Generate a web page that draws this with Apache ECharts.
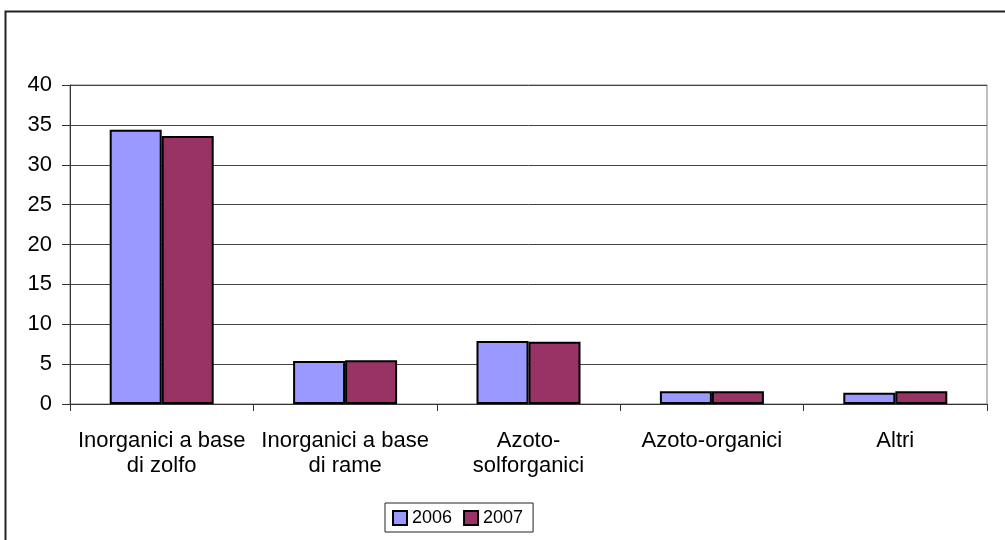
<!DOCTYPE html>
<html>
<head>
<meta charset="utf-8">
<script src="https://cdn.jsdelivr.net/npm/echarts@6/dist/echarts.min.js"></script>
<style>
  html, body { margin: 0; padding: 0; background: #fff; }
  #my-charts { width: 1005px; height: 540px; }
</style>
</head>
<body>
<div id="my-charts"></div>
<script>
// categorie e valori
var categories = [
  'Inorganici a base\ndi zolfo',
  'Inorganici a base\ndi rame',
  'Azoto-\nsolforganici',
  'Azoto-organici',
  'Altri'
]
var values2006 = [34.4, 5.4, 7.9, 1.6, 1.4]
var values2007 = [33.6, 5.5, 7.8, 1.6, 1.6]
var yTicks = { min: 0, max: 40, interval: 5 }

var font = '"Liberation Sans", Arial, sans-serif'
var myChart = echarts.init(document.getElementById('my-charts'))

var option = {
  animation: false,
  backgroundColor: '#fff',
  textStyle: { fontFamily: font },
  graphic: [
    {
      type: 'rect',
      shape: { x: 5.5, y: 11.5, width: 1100, height: 600 },
      style: { fill: 'none', stroke: '#222', lineWidth: 2 },
      silent: true
    }
  ],
  grid: {
    left: 70,
    right: 18,
    top: 85,
    bottom: 136,
    show: true,
    borderColor: '#808080',
    borderWidth: 1
  },
  legend: {
    left: 385,
    top: 503,
    data: ['2006', '2007'],
    itemWidth: 14,
    itemHeight: 14,
    itemGap: 11,
    padding: [6, 10, 5, 7],
    borderColor: '#222',
    borderWidth: 1,
    borderRadius: 0,
    textStyle: { fontSize: 18, color: '#000', fontFamily: font },
    icon: 'rect'
  },
  xAxis: {
    type: 'category',
    data: categories,
    axisLine: { lineStyle: { color: '#333', width: 1 } },
    axisTick: { show: true, length: 7, lineStyle: { color: '#333' } },
    axisLabel: {
      interval: 0,
      margin: 24,
      fontSize: 22,
      lineHeight: 25,
      color: '#000',
      fontFamily: font,
      align: 'center'
    },
    splitLine: { show: false }
  },
  yAxis: {
    type: 'value',
    min: yTicks.min,
    max: yTicks.max,
    interval: yTicks.interval,
    axisLine: { show: true, lineStyle: { color: '#333', width: 1 } },
    axisTick: { show: true, length: 8, lineStyle: { color: '#333' } },
    axisLabel: { fontSize: 22, color: '#000', margin: 18, fontFamily: font },
    splitLine: { lineStyle: { color: '#444', width: 1 } }
  },
  series: [
    {
      name: '2006',
      type: 'bar',
      data: values2006,
      barWidth: 52,
      barGap: '0%',
      itemStyle: { color: '#9999FF', borderColor: '#000', borderWidth: 2 }
    },
    {
      name: '2007',
      type: 'bar',
      data: values2007,
      barWidth: 52,
      itemStyle: { color: '#993366', borderColor: '#000', borderWidth: 2 }
    }
  ]
}

myChart.setOption(option)
</script>
</body>
</html>
